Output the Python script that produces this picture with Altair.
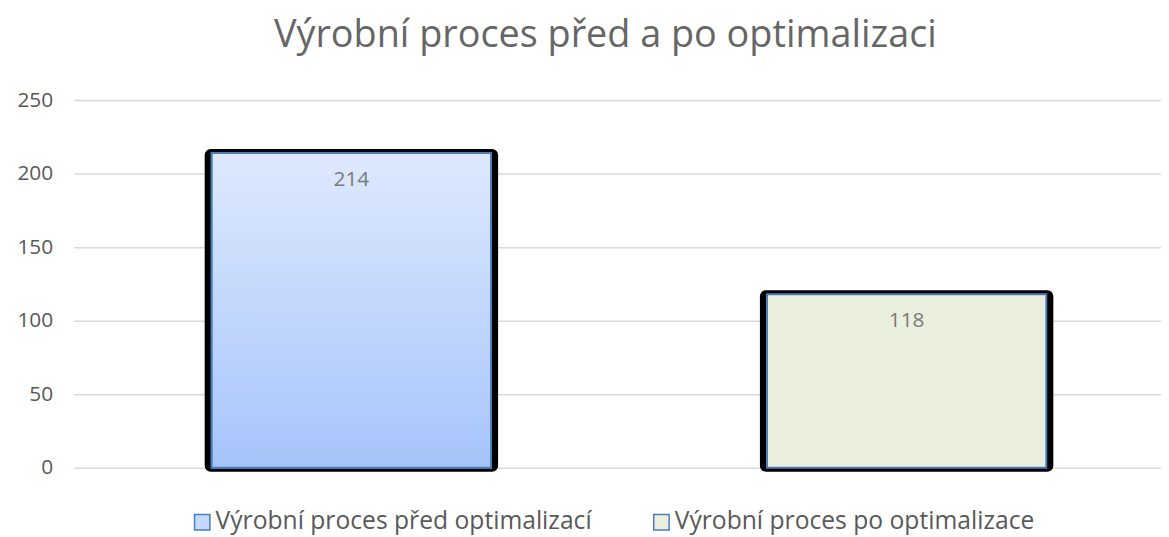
import altair as alt
import pandas as pd

categories = ["Výrobní proces před optimalizací", "Výrobní proces po optimalizace"]
values = [214, 118]
legend_colors = ["#C6D8FC", "#EBF0DE"]
y_ticks = [0, 50, 100, 150, 200, 250]

df = pd.DataFrame({"kategorie": categories, "hodnota": values})

FONT = "Open Sans"
GRAY = "#595959"

xenc = alt.X("kategorie:N", sort=categories, axis=None,
             scale=alt.Scale(paddingInner=0.4716, paddingOuter=0.215, align=0.549))
yenc = alt.Y("hodnota:Q",
             scale=alt.Scale(domain=[0, 250], nice=False),
             axis=alt.Axis(values=y_ticks, title=None, domain=False, ticks=False,
                           labelFontSize=21, labelColor=GRAY, labelFont=FONT,
                           labelPadding=21, gridColor="#D9D9D9", gridWidth=1.5))

base = alt.Chart(df)

shadow = base.mark_bar(color="black", stroke="black", strokeWidth=8, cornerRadius=2,
                       yOffset=-2, width=alt.RelativeBandSize(0.973)).encode(
    x=xenc, y=yenc
)

inner = base.mark_bar(stroke="#4A7EBB", strokeWidth=2,
                      width=alt.RelativeBandSize(0.952)).encode(
    x=xenc, y=yenc,
    fill=alt.Fill("kategorie:N", sort=categories,
                  scale=alt.Scale(domain=categories, range=legend_colors),
                  legend=alt.Legend(title=None, orient="none", direction="horizontal",
                                    legendX=117, legendY=412, padding=0,
                                    symbolType="square", symbolSize=240,
                                    symbolStrokeColor="#4A7EBB", symbolStrokeWidth=1.5,
                                    labelFontSize=24.8, labelFont=FONT, labelColor=GRAY,
                                    labelOffset=1, columnPadding=57, labelLimit=600))
)

gradient = alt.Gradient(
    gradient="linear",
    stops=[alt.GradientStop(color="#DEE9FD", offset=0),
           alt.GradientStop(color="#A6C4FB", offset=1)],
    x1=0, x2=0, y1=0, y2=1,
)

grad_bar = base.transform_filter(
    alt.datum.kategorie == categories[0]
).mark_bar(color=gradient, stroke="#4A7EBB", strokeWidth=2,
           width=alt.RelativeBandSize(0.952)).encode(x=xenc, y=yenc)

labels = base.mark_text(baseline="middle", dy=27, fontSize=21, font=FONT,
                        color="#7A7A7A").encode(
    x=xenc, y=yenc, text="hodnota:Q"
)

chart = alt.layer(shadow, inner, grad_bar, labels).properties(
    width=1094, height=370,
    autosize=alt.AutoSizeParams(type="none"),
    padding={"left": 66, "top": 91, "right": 0, "bottom": 70},
    title=alt.TitleParams("Výrobní proces před a po optimalizaci", fontSize=38,
                          font=FONT, fontWeight="normal", color="#666666",
                          anchor="middle", offset=34, dx=-12),
).configure_view(stroke=None)

chart.save("out.html", embed_options={"renderer": "svg", "actions": False})
